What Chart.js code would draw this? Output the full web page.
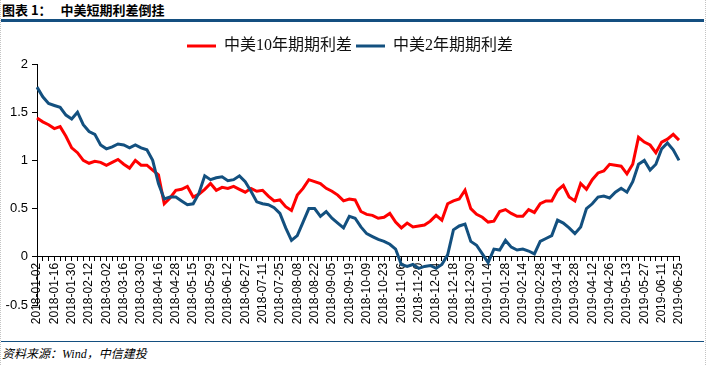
<!DOCTYPE html>
<html>
<head>
<meta charset="utf-8">
<script src="https://cdn.jsdelivr.net/npm/chart.js@4.4.1/dist/chart.umd.min.js"></script>
<style>
  html, body { margin: 0; padding: 0; background: #fff; }
  .page { position: relative; width: 708px; height: 365px; overflow: hidden; }
  .edge-l { position: absolute; left: 0; top: 0; bottom: 0; border-left: 1px dotted #c4c4c4; }
  .edge-r { position: absolute; left: 705px; top: 0; bottom: 0; border-left: 1px dotted #c4c4c4; }
  .title { position: absolute; left: 2px; top: 0; line-height: 19px; font: bold 13px "Noto Sans CJK SC", sans-serif; color: #000; white-space: pre; }
  .rule-top { position: absolute; left: 1px; top: 19px; width: 703px; height: 3px; background: #144f80; }
  .rule-bot { position: absolute; left: 1px; top: 341px; width: 703px; height: 1px; background: #144f80; }
  .source { position: absolute; left: 2px; top: 344px; line-height: 17px; font: italic 12px "Liberation Serif", "Noto Sans CJK SC", serif; color: #000; }
  .chart-box { position: absolute; left: 0; top: 22px; width: 708px; height: 318px; }
</style>
</head>
<body>
<div class="page">
  <div class="edge-l"></div>
  <div class="edge-r"></div>
  <div class="title">图表 1：   中美短期利差倒挂</div>
  <div class="rule-top"></div>
  <div class="chart-box"><canvas id="spreadChart"></canvas></div>
  <div class="rule-bot"></div>
  <div class="source">资料来源：Wind，中信建投</div>
</div>
<script>
// dates shown on the x axis, one every 3 points
const tickDates = [
  '2018-01-02', '2018-01-16', '2018-01-30', '2018-02-12', '2018-03-02', '2018-03-16',
  '2018-03-30', '2018-04-16', '2018-04-28', '2018-05-15', '2018-05-29', '2018-06-12',
  '2018-06-27', '2018-07-11', '2018-07-25', '2018-08-08', '2018-08-22', '2018-09-05',
  '2018-09-19', '2018-10-09', '2018-10-23', '2018-11-06', '2018-11-20', '2018-12-04',
  '2018-12-18', '2018-12-30', '2019-01-14', '2019-01-28', '2019-02-14', '2019-02-28',
  '2019-03-14', '2019-03-28', '2019-04-12', '2019-04-26', '2019-05-13', '2019-05-27',
  '2019-06-11', '2019-06-25'
];
const perTick = 3;

// 中美10年期利差 (%)
const spread10y = [
  1.44, 1.40, 1.37, 1.33, 1.35, 1.25, 1.13, 1.08, 1.00, 0.97,
  0.99, 0.98, 0.95, 0.98, 1.01, 0.96, 0.92, 1.00, 0.95, 0.95,
  0.90, 0.85, 0.55, 0.61, 0.69, 0.70, 0.73, 0.62, 0.65, 0.70,
  0.76, 0.69, 0.72, 0.71, 0.73, 0.70, 0.67, 0.71, 0.68, 0.69,
  0.63, 0.58, 0.59, 0.52, 0.48, 0.64, 0.71, 0.80, 0.78, 0.76,
  0.71, 0.68, 0.64, 0.58, 0.60, 0.59, 0.47, 0.44, 0.43, 0.40,
  0.41, 0.45, 0.36, 0.30, 0.35, 0.31, 0.32, 0.33, 0.37, 0.43,
  0.38, 0.55, 0.58, 0.60, 0.69, 0.50, 0.44, 0.41, 0.36, 0.37,
  0.47, 0.49, 0.45, 0.42, 0.42, 0.49, 0.46, 0.55, 0.58, 0.58,
  0.69, 0.74, 0.62, 0.58, 0.76, 0.70, 0.80, 0.87, 0.89, 0.96,
  0.95, 0.94, 0.86, 0.96, 1.24, 1.19, 1.16, 1.08, 1.19, 1.22,
  1.27, 1.21
];

// 中美2年期利差 (%)
const spread2y = [
  1.76, 1.66, 1.59, 1.57, 1.55, 1.47, 1.43, 1.50, 1.37, 1.30,
  1.27, 1.16, 1.12, 1.14, 1.17, 1.16, 1.13, 1.16, 1.13, 1.11,
  1.00, 0.76, 0.60, 0.62, 0.62, 0.58, 0.54, 0.55, 0.66, 0.84,
  0.80, 0.82, 0.83, 0.79, 0.80, 0.84, 0.78, 0.68, 0.57, 0.55,
  0.54, 0.51, 0.45, 0.30, 0.17, 0.22, 0.36, 0.50, 0.50, 0.42,
  0.47, 0.40, 0.35, 0.30, 0.42, 0.40, 0.31, 0.24, 0.21, 0.18,
  0.16, 0.13, 0.08, -0.08, -0.10, -0.08, -0.12, -0.10, -0.09, -0.12,
  -0.08, 0.02, 0.28, 0.32, 0.34, 0.16, 0.12, 0.03, -0.06, 0.08,
  0.07, 0.17, 0.10, 0.07, 0.08, 0.06, 0.03, 0.16, 0.19, 0.22,
  0.38, 0.35, 0.30, 0.24, 0.31, 0.50, 0.55, 0.62, 0.63, 0.61,
  0.67, 0.71, 0.67, 0.78, 0.96, 1.00, 0.90, 0.96, 1.12, 1.18,
  1.11, 1.00
];

const labels = spread10y.map((v, i) => (i % perTick === 0 ? tickDates[i / perTick] : ''));

const axisFont = { family: '"Liberation Sans", Arial, sans-serif', size: 12 };

const spreadChart = new Chart(document.getElementById('spreadChart'), {
  type: 'line',
  data: {
    labels: labels,
    datasets: [{
      label: '中美10年期期利差',
      data: spread10y,
      borderColor: '#ff0000',
      backgroundColor: '#ff0000',
      borderWidth: 3,
      pointRadius: 0,
      tension: 0,
      order: 1
    }, {
      label: '中美2年期期利差',
      data: spread2y,
      borderColor: '#13507f',
      backgroundColor: '#13507f',
      borderWidth: 3,
      pointRadius: 0,
      tension: 0,
      order: 0
    }]
  },
  options: {
    responsive: true,
    maintainAspectRatio: false,
    animation: false,
    layout: { padding: { top: 12, left: 0, right: 8, bottom: 35 } },
    scales: {
      x: {
        position: { y: 0 },
        grid: { drawOnChartArea: false, drawTicks: true, tickLength: 4, color: '#000' },
        border: { color: '#000', width: 1 },
        ticks: {
          autoSkip: false,
          minRotation: 90,
          maxRotation: 90,
          padding: 2,
          color: '#000',
          font: axisFont
        }
      },
      y: {
        min: -0.5,
        max: 2,
        grid: { drawOnChartArea: false, drawTicks: true, tickLength: 5, color: '#000' },
        border: { color: '#000', width: 1 },
        ticks: {
          stepSize: 0.5,
          padding: 4,
          color: '#000',
          font: { family: '"Liberation Sans", Arial, sans-serif', size: 13 },
          callback: v => String(v)
        },
        afterFit: s => { s.width = 37; }
      },
      pad: {
        type: 'linear',
        position: 'right',
        grid: { display: false },
        border: { display: false },
        ticks: { display: false },
        afterFit: s => { s.width = 21; }
      }
    },
    plugins: {
      legend: {
        position: 'top',
        labels: {
          usePointStyle: true,
          pointStyle: 'line',
          pointStyleWidth: 29,
          padding: 4,
          color: '#111',
          font: { family: '"Liberation Serif", "Noto Sans CJK SC", serif', size: 16 },
          sort: (a, b) => a.datasetIndex - b.datasetIndex
        }
      },
      tooltip: { enabled: false }
    }
  }
});
</script>
</body>
</html>
